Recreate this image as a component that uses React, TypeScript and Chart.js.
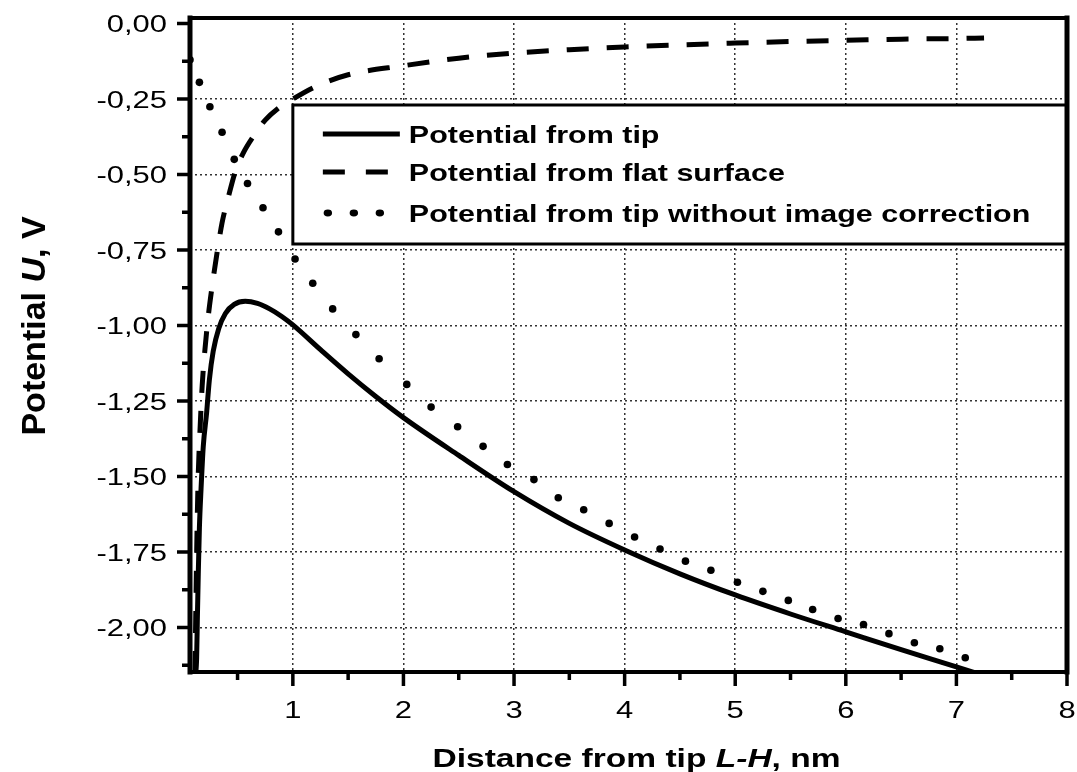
import React, { useEffect, useRef } from "react";
import { Chart, registerables } from "chart.js";

Chart.register(...registerables);

// ---------- data ----------
const tipX = [0.12, 0.13, 0.136, 0.145, 0.155, 0.17, 0.19, 0.22, 0.245, 0.28, 0.33, 0.39, 0.47, 0.57, 0.68, 0.79, 0.9, 1.0, 1.25, 1.5, 1.75, 2.0, 2.5, 3.0, 3.5, 4.0, 4.5, 5.0, 5.5, 6.0, 6.5, 7.0, 7.3];
const tipU = [-2.16, -2.1, -1.98, -1.82, -1.67, -1.54, -1.4, -1.29, -1.18, -1.085, -1.01, -0.96, -0.93, -0.92, -0.927, -0.945, -0.97, -0.998, -1.08, -1.16, -1.235, -1.305, -1.43, -1.55, -1.655, -1.743, -1.822, -1.892, -1.955, -2.014, -2.073, -2.13, -2.165];

const flatX = [0.115, 0.125, 0.135, 0.145, 0.16, 0.18, 0.205, 0.235, 0.27, 0.31, 0.36, 0.42, 0.48, 0.55, 0.65, 0.75, 0.87, 1.0, 1.2, 1.5, 2.0, 2.5, 3.0, 3.5, 4.0, 4.5, 5.0, 5.5, 6.0, 6.5, 7.0, 7.25];
const flatU = [-2.15, -1.88, -1.65, -1.49, -1.35, -1.2, -1.08, -0.97, -0.87, -0.77, -0.66, -0.57, -0.49, -0.43, -0.37, -0.32, -0.28, -0.25, -0.21, -0.17, -0.14, -0.115, -0.098, -0.087, -0.078, -0.071, -0.065, -0.06, -0.056, -0.052, -0.05, -0.048];

const noImgX = [0.07, 0.155, 0.25, 0.36, 0.47, 0.59, 0.73, 0.87, 1.02, 1.18, 1.36, 1.57, 1.78, 2.03, 2.25, 2.49, 2.72, 2.94, 3.18, 3.4, 3.63, 3.86, 4.09, 4.32, 4.55, 4.78, 5.02, 5.25, 5.48, 5.7, 5.93, 6.16, 6.39, 6.62, 6.85, 7.08];
const noImgU = [-0.12, -0.195, -0.276, -0.36, -0.45, -0.53, -0.61, -0.69, -0.78, -0.86, -0.945, -1.03, -1.11, -1.195, -1.27, -1.335, -1.4, -1.46, -1.51, -1.57, -1.61, -1.655, -1.7, -1.74, -1.78, -1.81, -1.85, -1.88, -1.91, -1.94, -1.97, -1.99, -2.02, -2.05, -2.07, -2.1];

const seriesLabels = [
  "Potential from tip",
  "Potential from flat surface",
  "Potential from tip without image correction",
];

const xTicks = [1, 2, 3, 4, 5, 6, 7, 8];
const yTicks = [0, -0.25, -0.5, -0.75, -1, -1.25, -1.5, -1.75, -2];
const xMinor = [0.5, 1.5, 2.5, 3.5, 4.5, 5.5, 6.5, 7.5];
const yMinor = [-0.125, -0.375, -0.625, -0.875, -1.125, -1.375, -1.625, -1.875, -2.125];

const X_MIN = 0.07;
const X_MAX = 8;
const Y_MIN = -2.147;
const Y_MAX = 0.018;

const FONT = '"Liberation Sans", Arial, Helvetica, sans-serif';
const STRETCH = 1.29; // the reference's horizontal text is drawn wider than it is tall
const LEGEND_STRETCH = 1.27;

const fmtX = (v: number) => String(v);
const fmtY = (v: number) => v.toFixed(2).replace(".", ",");

function drawMixed(ctx: CanvasRenderingContext2D, parts: [string, boolean][], size: number) {
  const fonts = parts.map(([, it]) => `${it ? "italic " : ""}bold ${size}px ${FONT}`);
  let total = 0;
  const widths = parts.map(([t], i) => {
    ctx.font = fonts[i];
    const w = ctx.measureText(t).width;
    total += w;
    return w;
  });
  let x = -total / 2;
  ctx.textAlign = "left";
  ctx.textBaseline = "alphabetic";
  parts.forEach(([t], i) => {
    ctx.font = fonts[i];
    ctx.fillText(t, x, 0);
    x += widths[i];
  });
}

const decorPlugin = {
  id: "decor",
  afterDatasetsDraw(chart: any) {
    const { ctx, chartArea: a, scales } = chart;
    const xs = scales.x;
    const bx = xs.getPixelForValue(1);
    const by = a.top + 87;
    const bh = 139;
    ctx.save();
    ctx.fillStyle = "#fff";
    ctx.fillRect(bx, by, a.right - bx, bh);
    ctx.strokeStyle = "#000";
    ctx.lineWidth = 3;
    ctx.strokeRect(bx, by, a.right - bx, bh);

    const rows = [by + 29, by + 67, by + 108];
    const sx0 = bx + 30;
    const sx1 = bx + 107;
    ctx.lineWidth = 5;
    ctx.lineCap = "butt";
    ctx.setLineDash([]);
    ctx.beginPath();
    ctx.moveTo(sx0, rows[0]);
    ctx.lineTo(sx1, rows[0]);
    ctx.stroke();
    ctx.setLineDash([22, 21]);
    ctx.beginPath();
    ctx.moveTo(sx0, rows[1]);
    ctx.lineTo(sx0 + 66, rows[1]);
    ctx.stroke();
    ctx.setLineDash([]);
    ctx.fillStyle = "#000";
    [5, 31, 57].forEach((d) => {
      ctx.beginPath();
      ctx.ellipse(sx0 + d, rows[2], 4.2, 3.4, 0, 0, Math.PI * 2);
      ctx.fill();
    });
    ctx.font = `bold 24px ${FONT}`;
    ctx.textAlign = "left";
    ctx.textBaseline = "alphabetic";
    seriesLabels.forEach((t, i) => {
      ctx.save();
      ctx.translate(bx + 116, rows[i] + 8.6);
      ctx.scale(LEGEND_STRETCH, 1);
      ctx.fillText(t, 0, 0);
      ctx.restore();
    });
    ctx.restore();
  },
  afterDraw(chart: any) {
    const { ctx, chartArea: a, scales } = chart;
    const xs = scales.x;
    const ys = scales.y;
    ctx.save();
    ctx.strokeStyle = "#000";
    ctx.setLineDash([]);
    ctx.lineCap = "square";
    ctx.lineWidth = 4;
    ctx.beginPath();
    ctx.moveTo(a.left, a.top);
    ctx.lineTo(a.right, a.top);
    ctx.moveTo(a.left, a.bottom);
    ctx.lineTo(a.right, a.bottom);
    ctx.stroke();
    ctx.lineWidth = 5;
    ctx.beginPath();
    ctx.moveTo(a.left, a.top);
    ctx.lineTo(a.left, a.bottom);
    ctx.moveTo(a.right, a.top);
    ctx.lineTo(a.right, a.bottom);
    ctx.stroke();
    // tick marks
    ctx.lineCap = "butt";
    ctx.lineWidth = 3.5;
    ctx.beginPath();
    xTicks.forEach((v) => {
      const p = xs.getPixelForValue(v);
      ctx.moveTo(p, a.bottom);
      ctx.lineTo(p, a.bottom + 14);
    });
    xMinor.forEach((v) => {
      const p = xs.getPixelForValue(v);
      ctx.moveTo(p, a.bottom);
      ctx.lineTo(p, a.bottom + 8);
    });
    yTicks.forEach((v) => {
      const p = ys.getPixelForValue(v);
      ctx.moveTo(a.left, p);
      ctx.lineTo(a.left - 13, p);
    });
    yMinor.forEach((v) => {
      const p = ys.getPixelForValue(v);
      ctx.moveTo(a.left, p);
      ctx.lineTo(a.left - 8, p);
    });
    ctx.stroke();

    // tick labels (from the scales' own ticks)
    ctx.fillStyle = "#000";
    ctx.font = `24px ${FONT}`;
    ctx.textBaseline = "alphabetic";
    ys.ticks.forEach((t: any) => {
      const p = ys.getPixelForValue(t.value);
      ctx.save();
      ctx.translate(a.left - 23, p + 8.6);
      ctx.scale(STRETCH, 1);
      ctx.textAlign = "right";
      ctx.fillText(fmtY(t.value), 0, 0);
      ctx.restore();
    });
    xs.ticks.forEach((t: any) => {
      const p = xs.getPixelForValue(t.value);
      ctx.save();
      ctx.translate(p, a.bottom + 46);
      ctx.scale(STRETCH, 1);
      ctx.textAlign = "center";
      ctx.fillText(fmtX(t.value), 0, 0);
      ctx.restore();
    });

    // axis titles
    ctx.save();
    ctx.translate((a.left + a.right) / 2 + 8, a.bottom + 95);
    ctx.scale(STRETCH, 1);
    drawMixed(ctx, [["Distance from tip ", false], ["L-H", true], [", nm", false]], 26);
    ctx.restore();
    ctx.save();
    ctx.translate(45, (a.top + a.bottom) / 2 - 19);
    ctx.rotate(-Math.PI / 2);
    drawMixed(ctx, [["Potential ", false], ["U", true], [", V", false]], 34);
    ctx.restore();
    ctx.restore();
  },
};

export default function App() {
  const ref = useRef<HTMLCanvasElement | null>(null);

  useEffect(() => {
    if (!ref.current) return;
    const toPts = (xs: number[], ys: number[]) => xs.map((x, i) => ({ x, y: ys[i] }));
    const chart = new Chart(ref.current, {
      type: "line",
      data: {
        datasets: [
          {
            label: seriesLabels[0],
            data: toPts(tipX, tipU),
            borderColor: "#000",
            borderWidth: 5,
            pointRadius: 0,
            cubicInterpolationMode: "monotone",
            borderJoinStyle: "round",
            fill: false,
          },
          {
            label: seriesLabels[1],
            data: toPts(flatX, flatU),
            borderColor: "#000",
            borderWidth: 5,
            borderDash: [22, 18],
            pointRadius: 0,
            cubicInterpolationMode: "monotone",
            fill: false,
          },
          {
            label: seriesLabels[2],
            data: toPts(noImgX, noImgU),
            showLine: false,
            borderColor: "#000",
            backgroundColor: "#000",
            pointRadius: 3.8,
            pointBorderWidth: 0,
            pointBackgroundColor: "#000",
            fill: false,
          },
        ],
      } as any,
      options: {
        animation: false,
        responsive: false,
        devicePixelRatio: 1,
        layout: { padding: { top: 18, right: 10, left: 0, bottom: 0 } },
        plugins: { legend: { display: false }, tooltip: { enabled: false } },
        scales: {
          x: {
            type: "linear",
            min: X_MIN,
            max: X_MAX,
            afterBuildTicks: (s: any) => {
              s.ticks = xTicks.map((v) => ({ value: v }));
            },
            afterFit: (s: any) => {
              s.height = 100;
            },
            grid: {
              color: (c: any) => (c.tick && c.tick.value === X_MAX ? "rgba(0,0,0,0)" : "#333"),
              lineWidth: 1.5,
              drawTicks: false,
            },
            border: { display: false, dash: [2, 3] },
            ticks: { display: false },
          },
          y: {
            type: "linear",
            min: Y_MIN,
            max: Y_MAX,
            afterBuildTicks: (s: any) => {
              s.ticks = yTicks.map((v) => ({ value: v }));
            },
            afterFit: (s: any) => {
              s.width = 190;
            },
            grid: {
              color: (c: any) => (c.tick && c.tick.value === 0 ? "rgba(0,0,0,0)" : "#333"),
              lineWidth: 1.5,
              drawTicks: false,
            },
            border: { display: false, dash: [2, 3] },
            ticks: { display: false },
          },
        },
      } as any,
      plugins: [decorPlugin],
    });
    return () => chart.destroy();
  }, []);

  return (
    <div style={{ position: "fixed", left: 0, top: 0, width: 1077, height: 772, background: "#fff" }}>
      <canvas ref={ref} width={1077} height={772} style={{ display: "block" }} />
    </div>
  );
}
